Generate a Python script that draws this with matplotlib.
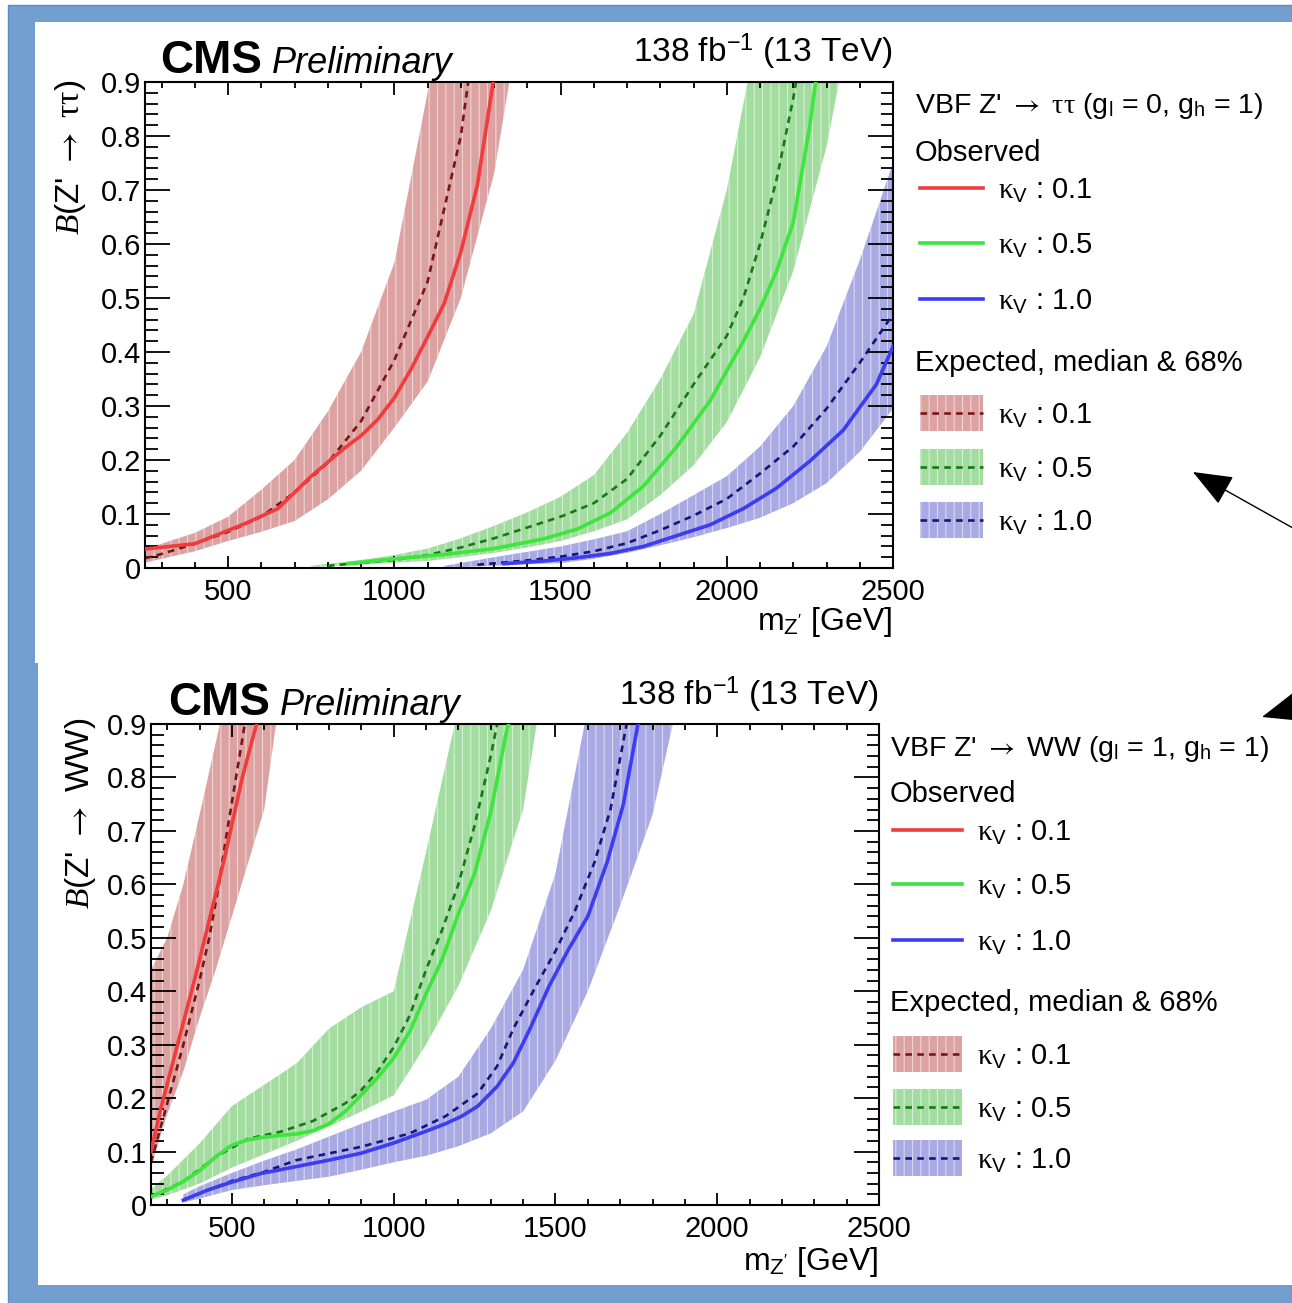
import matplotlib
matplotlib.use('Agg')
import matplotlib.pyplot as plt
from matplotlib.patches import Rectangle
from matplotlib.ticker import MultipleLocator, FuncFormatter

W, H = 1292, 1303

plt.rcParams['font.family'] = ['Liberation Sans', 'DejaVu Sans']
plt.rcParams['mathtext.fontset'] = 'custom'
plt.rcParams['mathtext.rm'] = 'Liberation Serif'
plt.rcParams['mathtext.it'] = 'Liberation Serif:italic'
plt.rcParams['mathtext.sf'] = 'Liberation Sans'
plt.rcParams['mathtext.bf'] = 'Liberation Sans:bold'
plt.rcParams['mathtext.cal'] = 'STIXGeneral'
plt.rcParams['mathtext.fallback'] = 'stix'
plt.rcParams['hatch.linewidth'] = 0.8

kappa_labels = ['0.1', '0.5', '1.0']
obs_colors = ['#f03c3c', '#3ce63c', '#3c3cf0']
exp_colors = ['#7a1515', '#157a15', '#15157a']
band_colors = ['#dca2a2', '#a2dc9f', '#a9a9e4']
hatch_white = (1, 1, 1, 0.55)

ARROW = r'$\mathcal{\rightarrow}$'

# ---- Z' -> tautau (g_l = 0, g_h = 1) ----
tt_obs_m_01 = [250, 400, 550, 650, 750, 850, 900, 950, 1000, 1050, 1100, 1150, 1200, 1250, 1300]
tt_obs_01 = [0.035, 0.045, 0.082, 0.11, 0.17, 0.222, 0.245, 0.275, 0.315, 0.368, 0.428, 0.49, 0.585, 0.71, 0.91]
tt_exp_m_01 = [250, 300, 400, 500, 600, 700, 800, 900, 1000, 1100, 1200, 1300]
tt_exp_01 = [0.018, 0.026, 0.045, 0.067, 0.095, 0.14, 0.195, 0.272, 0.385, 0.53, 0.80, 1.25]
tt_band_m_01 = [250, 300, 400, 500, 600, 700, 800, 900, 1000, 1100, 1200, 1300, 1400]
tt_lo_01 = [0.01, 0.017, 0.031, 0.05, 0.067, 0.087, 0.127, 0.18, 0.26, 0.345, 0.50, 0.73, 1.1]
tt_hi_01 = [0.035, 0.045, 0.065, 0.095, 0.145, 0.20, 0.29, 0.40, 0.565, 0.88, 1.3, 1.7, 2.2]

tt_obs_m_05 = [860, 1000, 1150, 1300, 1450, 1550, 1650, 1750, 1850, 1950, 2050, 2100, 2150, 2200, 2250, 2280]
tt_obs_05 = [0.008, 0.017, 0.025, 0.036, 0.054, 0.072, 0.102, 0.152, 0.225, 0.31, 0.42, 0.48, 0.55, 0.64, 0.82, 0.96]
tt_exp_m_05 = [800, 1000, 1100, 1200, 1300, 1400, 1500, 1600, 1700, 1800, 1900, 2000, 2050, 2100, 2150, 2200, 2250]
tt_exp_05 = [0.004, 0.015, 0.024, 0.038, 0.055, 0.075, 0.095, 0.12, 0.165, 0.245, 0.34, 0.43, 0.50, 0.60, 0.72, 0.87, 1.05]
tt_band_m_05 = [750, 900, 1000, 1100, 1200, 1300, 1400, 1500, 1600, 1700, 1800, 1900, 2000, 2100, 2200, 2300, 2400]
tt_lo_05 = [0.002, 0.006, 0.01, 0.013, 0.02, 0.028, 0.038, 0.05, 0.068, 0.09, 0.135, 0.19, 0.27, 0.39, 0.55, 0.78, 1.1]
tt_hi_05 = [0.004, 0.015, 0.024, 0.036, 0.055, 0.078, 0.103, 0.132, 0.172, 0.25, 0.35, 0.47, 0.70, 1.02, 1.4, 1.8, 2.2]

tt_obs_m_10 = [1330, 1450, 1550, 1650, 1750, 1850, 1950, 2050, 2150, 2250, 2350, 2450, 2500]
tt_obs_10 = [0.008, 0.013, 0.019, 0.027, 0.04, 0.06, 0.08, 0.11, 0.148, 0.198, 0.255, 0.34, 0.41]
tt_exp_m_10 = [1250, 1400, 1500, 1600, 1700, 1800, 1900, 2000, 2100, 2200, 2300, 2400, 2500]
tt_exp_10 = [0.006, 0.014, 0.021, 0.031, 0.046, 0.07, 0.097, 0.128, 0.175, 0.225, 0.295, 0.38, 0.47]
tt_band_m_10 = [1150, 1300, 1400, 1500, 1600, 1700, 1800, 1900, 2000, 2100, 2200, 2300, 2400, 2500]
tt_lo_10 = [0.001, 0.004, 0.007, 0.009, 0.017, 0.028, 0.042, 0.057, 0.074, 0.093, 0.12, 0.157, 0.215, 0.295]
tt_hi_10 = [0.004, 0.02, 0.03, 0.04, 0.053, 0.068, 0.1, 0.135, 0.17, 0.225, 0.30, 0.41, 0.57, 0.75]

# ---- Z' -> WW (g_l = 1, g_h = 1) ----
ww_obs_m_01 = [250, 280, 332, 384, 437, 476, 531, 576, 600]
ww_obs_01 = [0.10, 0.18, 0.30, 0.42, 0.55, 0.646, 0.797, 0.9, 0.96]
ww_exp_m_01 = [250, 300, 350, 400, 430, 460, 480, 510, 540, 560]
ww_exp_01 = [0.08, 0.19, 0.30, 0.42, 0.50, 0.60, 0.68, 0.79, 0.9, 0.97]
ww_band_m_01 = [250, 300, 350, 400, 450, 500, 550, 600, 650]
ww_lo_01 = [0.07, 0.17, 0.25, 0.35, 0.44, 0.54, 0.64, 0.74, 0.96]
ww_hi_01 = [0.44, 0.50, 0.60, 0.73, 0.865, 1.0, 1.1, 1.2, 1.3]

ww_obs_m_05 = [250, 300, 350, 400, 450, 500, 550, 600, 650, 700, 750, 800, 850, 900, 950,
               1000, 1050, 1100, 1150, 1200, 1250, 1300, 1350, 1380]
ww_obs_05 = [0.016, 0.028, 0.044, 0.064, 0.09, 0.112, 0.122, 0.127, 0.13, 0.133, 0.139, 0.152, 0.175,
             0.206, 0.238, 0.275, 0.325, 0.395, 0.46, 0.545, 0.62, 0.735, 0.89, 0.95]
ww_exp_m_05 = [250, 350, 450, 550, 650, 750, 850, 900, 950, 1000, 1050, 1100, 1150, 1200, 1250, 1300, 1330]
ww_exp_05 = [0.016, 0.044, 0.09, 0.124, 0.137, 0.157, 0.19, 0.215, 0.25, 0.295, 0.355, 0.44, 0.515, 0.60, 0.71, 0.84, 0.93]
ww_band_m_05 = [250, 300, 400, 500, 600, 700, 800, 900, 1000, 1100, 1200, 1300, 1400, 1450, 1500]
ww_lo_05 = [0.01, 0.018, 0.04, 0.07, 0.095, 0.12, 0.147, 0.175, 0.205, 0.3, 0.41, 0.55, 0.74, 0.93, 1.1]
ww_hi_05 = [0.03, 0.055, 0.115, 0.185, 0.225, 0.265, 0.33, 0.37, 0.40, 0.66, 0.93, 1.2, 1.5, 1.6, 1.7]

ww_obs_m_10 = [350, 425, 490, 590, 700, 800, 900, 1000, 1100, 1160, 1210, 1260, 1320, 1370, 1420, 1480,
               1540, 1600, 1660, 1710, 1755]
ww_obs_10 = [0.009, 0.028, 0.041, 0.059, 0.072, 0.084, 0.097, 0.116, 0.138, 0.152, 0.166, 0.185, 0.222, 0.266,
             0.328, 0.409, 0.478, 0.54, 0.642, 0.75, 0.9]
ww_exp_m_10 = [350, 500, 600, 700, 900, 1050, 1160, 1260, 1320, 1370, 1440, 1500, 1560, 1620, 1670, 1720]
ww_exp_10 = [0.01, 0.045, 0.062, 0.084, 0.109, 0.134, 0.166, 0.209, 0.26, 0.33, 0.41, 0.475, 0.55, 0.64, 0.74, 0.9]
ww_band_m_10 = [350, 400, 500, 600, 700, 800, 900, 1000, 1100, 1200, 1300, 1400, 1500, 1600, 1700, 1800, 1900]
ww_lo_10 = [0.005, 0.012, 0.028, 0.037, 0.045, 0.053, 0.066, 0.08, 0.092, 0.11, 0.134, 0.175, 0.27, 0.40, 0.56, 0.73, 1.0]
ww_hi_10 = [0.02, 0.035, 0.06, 0.083, 0.104, 0.128, 0.152, 0.175, 0.197, 0.24, 0.33, 0.44, 0.62, 0.93, 1.2, 1.5, 1.8]


def fig_rect(left, top, right, bottom):
    """pixel box -> figure fraction [x0, y0, w, h]"""
    return [left / W, 1 - bottom / H, (right - left) / W, (bottom - top) / H]


def draw_limits(ax, bands, medians, observed):
    for i, (m, lo, hi) in enumerate(bands):
        ax.fill_between(m, lo, hi, facecolor=band_colors[i], edgecolor=hatch_white,
                        hatch='||', linewidth=0, zorder=1)
    for i, (m, y) in enumerate(medians):
        ax.plot(m, y, color=exp_colors[i], lw=1.9, ls=(0, (2.5, 2.0)), zorder=2)
    for i, (m, y) in enumerate(observed):
        ax.plot(m, y, color=obs_colors[i], lw=2.6, zorder=3)


def style_axes(ax):
    ax.set_xlim(250, 2500)
    ax.set_ylim(0, 0.9)
    ax.xaxis.set_major_locator(MultipleLocator(500))
    ax.xaxis.set_minor_locator(MultipleLocator(100))
    ax.yaxis.set_major_locator(MultipleLocator(0.1))
    ax.yaxis.set_minor_locator(MultipleLocator(0.02))
    ax.yaxis.set_major_formatter(FuncFormatter(lambda v, p: '0' if abs(v) < 1e-9 else f'{v:.1f}'))
    ax.tick_params(which='both', direction='in', top=True, right=True, width=1.3, labelsize=21)
    ax.tick_params(axis='x', which='major', length=9, pad=7)
    ax.tick_params(axis='x', which='minor', length=4.5)
    ax.tick_params(axis='y', which='major', length=18, pad=3)
    ax.tick_params(axis='y', which='minor', length=9)
    for s in ax.spines.values():
        s.set_linewidth(1.5)


def draw_legend(cv, x_head, x0, x1, x_lab, head, y_head, y_obs_head, ys_obs, y_exp_head, ys_exp):
    fs = 21
    cv.text(x_head, y_head, head, fontsize=20.5, va='baseline')
    cv.text(x_head, y_obs_head, 'Observed', fontsize=fs, va='baseline')
    for i, y in enumerate(ys_obs):
        cv.plot([x0, x1], [y, y], color=obs_colors[i], lw=2.6)
        cv.text(x_lab, y + 11, r'$\mathrm{\kappa}_{\mathsf{V}}$ : ' + kappa_labels[i], fontsize=fs, va='baseline')
    cv.text(x_head, y_exp_head, 'Expected, median & 68%', fontsize=fs, va='baseline')
    for i, y in enumerate(ys_exp):
        cv.add_patch(Rectangle((x0, y - 18), x1 - x0, 36, facecolor=band_colors[i],
                               edgecolor=hatch_white, hatch='||', lw=0))
        cv.plot([x0, x1], [y, y], color=exp_colors[i], lw=1.9, ls=(0, (2.5, 2.0)))
        cv.text(x_lab, y + 11, r'$\mathrm{\kappa}_{\mathsf{V}}$ : ' + kappa_labels[i], fontsize=fs, va='baseline')


fig = plt.figure(figsize=(W / 100, H / 100), dpi=100, facecolor='white')

# page background and white panels, in pixel coordinates
cv = fig.add_axes([0, 0, 1, 1], zorder=-1)
cv.set_xlim(0, W)
cv.set_ylim(H, 0)
cv.axis('off')
cv.add_patch(Rectangle((8, 5), W - 8, H - 5, facecolor='#729fcf', edgecolor='#5f8cbf', lw=1))
cv.add_patch(Rectangle((35, 22), W - 35, 641, facecolor='white', lw=0))
cv.add_patch(Rectangle((38, 662), W - 38, 623, facecolor='white', lw=0))

ax1 = fig.add_axes(fig_rect(145, 82, 893, 568))
ax2 = fig.add_axes(fig_rect(151, 724, 879, 1205))

draw_limits(ax1,
            [(tt_band_m_01, tt_lo_01, tt_hi_01), (tt_band_m_05, tt_lo_05, tt_hi_05),
             (tt_band_m_10, tt_lo_10, tt_hi_10)],
            [(tt_exp_m_01, tt_exp_01), (tt_exp_m_05, tt_exp_05), (tt_exp_m_10, tt_exp_10)],
            [(tt_obs_m_01, tt_obs_01), (tt_obs_m_05, tt_obs_05), (tt_obs_m_10, tt_obs_10)])
draw_limits(ax2,
            [(ww_band_m_01, ww_lo_01, ww_hi_01), (ww_band_m_05, ww_lo_05, ww_hi_05),
             (ww_band_m_10, ww_lo_10, ww_hi_10)],
            [(ww_exp_m_01, ww_exp_01), (ww_exp_m_05, ww_exp_05), (ww_exp_m_10, ww_exp_10)],
            [(ww_obs_m_01, ww_obs_01), (ww_obs_m_05, ww_obs_05), (ww_obs_m_10, ww_obs_10)])
style_axes(ax1)
style_axes(ax2)

# CMS labels, luminosity and axis titles
lumi = r'138 fb$^{\mathsf{-1}}$ (13 TeV)'
for (xc, xp, yb, xr, yl, ylab_x, ylab_y, ylab, xlab_y) in [
        (160, 272, 73, 893, 62, 70, 80, r"$\mathit{B}$(Z' " + ARROW + r" $\mathrm{\tau\tau}$)", 622),
        (168, 280, 715, 879, 705, 80, 718, r"$\mathit{B}$(Z' " + ARROW + " WW)", 1262)]:
    cv.text(xc, yb, 'CMS', fontsize=33, fontweight='bold', va='baseline')
    cv.text(xp, yb, 'Preliminary', fontsize=26, style='italic', va='baseline')
    cv.text(xr, yl, lumi, fontsize=24, ha='right', va='baseline')
    cv.text(ylab_x, ylab_y, ylab, fontsize=24, rotation=90, ha='center', va='top')
    cv.text(xr, xlab_y, r"m$_{\mathsf{Z'}}$ [GeV]", fontsize=23, ha='right', va='center')

draw_legend(cv, 915, 920, 983, 998,
            r"VBF Z' " + ARROW + r" $\mathrm{\tau\tau}$ (g$_{\mathsf{l}}$ = 0, g$_{\mathsf{h}}$ = 1)",
            113, 161, [188, 243, 299], 371, [413, 467, 520])
draw_legend(cv, 890, 893, 962, 977,
            r"VBF Z' " + ARROW + r" WW (g$_{\mathsf{l}}$ = 1, g$_{\mathsf{h}}$ = 1)",
            756, 802, [830, 884, 940], 1011, [1054, 1107, 1158])

# pointer arrows on the right
arrow = dict(arrowstyle='-|>,head_length=1.25,head_width=0.5', color='black', lw=1.0,
             shrinkA=0, shrinkB=0, mutation_scale=20)
cv.annotate('', xy=(1193, 472), xytext=(1300, 532), arrowprops=arrow, annotation_clip=False)
cv.annotate('', xy=(1262, 717), xytext=(1400, 677), arrowprops=arrow, annotation_clip=False)

fig.savefig('out.png', dpi=100, facecolor='white')
